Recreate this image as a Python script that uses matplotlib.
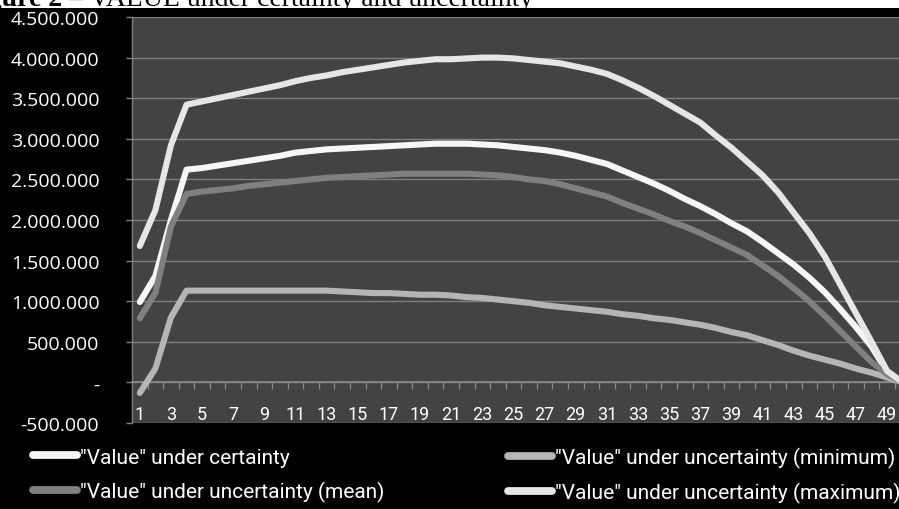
import matplotlib
matplotlib.use("Agg")
import matplotlib.pyplot as plt
from matplotlib.patches import Rectangle
from matplotlib.ticker import FuncFormatter, FixedLocator

# ---------------- data ----------------
periods = list(range(1, 51))

value_certainty = [
    0.99e6, 1.31e6, 2.00e6, 2.62e6, 2.64e6, 2.67e6, 2.70e6, 2.73e6, 2.76e6, 2.79e6,
    2.83e6, 2.85e6, 2.87e6, 2.88e6, 2.89e6, 2.90e6, 2.91e6, 2.92e6, 2.93e6, 2.94e6,
    2.94e6, 2.94e6, 2.93e6, 2.92e6, 2.90e6, 2.88e6, 2.86e6, 2.83e6, 2.79e6, 2.74e6,
    2.69e6, 2.61e6, 2.53e6, 2.45e6, 2.36e6, 2.26e6, 2.17e6, 2.07e6, 1.96e6, 1.86e6,
    1.73e6, 1.59e6, 1.45e6, 1.29e6, 1.11e6, 0.90e6, 0.68e6, 0.44e6, 0.13e6, 0.0,
]

value_min = [
    -0.13e6, 0.17e6, 0.80e6, 1.13e6, 1.13e6, 1.13e6, 1.13e6, 1.13e6, 1.13e6, 1.13e6,
    1.13e6, 1.13e6, 1.13e6, 1.12e6, 1.11e6, 1.10e6, 1.10e6, 1.09e6, 1.08e6, 1.08e6,
    1.07e6, 1.05e6, 1.04e6, 1.02e6, 1.00e6, 0.98e6, 0.95e6, 0.93e6, 0.91e6, 0.89e6,
    0.87e6, 0.84e6, 0.82e6, 0.79e6, 0.77e6, 0.74e6, 0.71e6, 0.67e6, 0.62e6, 0.58e6,
    0.52e6, 0.46e6, 0.39e6, 0.33e6, 0.28e6, 0.23e6, 0.17e6, 0.12e6, 0.06e6, 0.0,
]

value_mean = [
    0.79e6, 1.10e6, 1.92e6, 2.32e6, 2.35e6, 2.37e6, 2.39e6, 2.42e6, 2.44e6, 2.46e6,
    2.48e6, 2.50e6, 2.52e6, 2.53e6, 2.54e6, 2.55e6, 2.56e6, 2.57e6, 2.57e6, 2.57e6,
    2.57e6, 2.57e6, 2.56e6, 2.55e6, 2.53e6, 2.50e6, 2.48e6, 2.44e6, 2.39e6, 2.34e6,
    2.29e6, 2.21e6, 2.14e6, 2.07e6, 1.99e6, 1.92e6, 1.84e6, 1.75e6, 1.66e6, 1.57e6,
    1.44e6, 1.31e6, 1.16e6, 1.00e6, 0.82e6, 0.63e6, 0.44e6, 0.25e6, 0.10e6, 0.0,
]

value_max = [
    1.68e6, 2.12e6, 2.92e6, 3.42e6, 3.46e6, 3.50e6, 3.54e6, 3.58e6, 3.62e6, 3.66e6,
    3.71e6, 3.75e6, 3.78e6, 3.82e6, 3.85e6, 3.88e6, 3.91e6, 3.94e6, 3.96e6, 3.98e6,
    3.98e6, 3.99e6, 4.00e6, 4.00e6, 3.99e6, 3.97e6, 3.95e6, 3.93e6, 3.89e6, 3.85e6,
    3.80e6, 3.72e6, 3.63e6, 3.53e6, 3.42e6, 3.31e6, 3.20e6, 3.04e6, 2.89e6, 2.72e6,
    2.55e6, 2.34e6, 2.09e6, 1.84e6, 1.55e6, 1.20e6, 0.85e6, 0.50e6, 0.14e6, 0.0,
]

series_labels = [
    '"Value" under certainty',
    '"Value" under uncertainty (minimum)',
    '"Value" under uncertainty (mean)',
    '"Value" under uncertainty (maximum)',
]
x_tick_labels = [str(i) for i in range(1, 50, 2)]
y_ticks = list(range(-500000, 4500001, 500000))
title_bold = "Figure 2"
title_rest = " \u2013 VALUE under certainty and uncertainty"

# ---------------- styling ----------------
W, H = 899, 510
narrow = ['Roboto', 'DejaVu Sans']
colors = ['#f6f6f6', '#b5b5b5', '#808080', '#e6e6e6']

fig = plt.figure(figsize=(W / 100, H / 100), dpi=100, facecolor='black')

# white strip at top with the partially hidden caption
fig.add_artist(Rectangle((0, 1 - 9 / H), 1, 9 / H, transform=fig.transFigure,
                         facecolor='white', edgecolor='none', zorder=0))
t1 = fig.text(-37 / W, 1 - 6.5 / H, title_bold, fontsize=20, fontweight='bold',
              family='Liberation Serif', color='black', va='baseline', ha='left',
              zorder=1)
fig.canvas.draw()
bb = t1.get_window_extent(renderer=fig.canvas.get_renderer())
fig.text(bb.x1 / W, 1 - 6.5 / H, title_rest, fontsize=20, family='Liberation Serif',
         color='black', va='baseline', ha='left', zorder=1)

left_px, top_px, bottom_px = 132, 18, 424
ax = fig.add_axes([left_px / W, 1 - bottom_px / H, (W - left_px) / W,
                   (bottom_px - top_px) / H])
ax.set_facecolor('#434343')

lines = []
for vals, c, lab in zip([value_certainty, value_min, value_mean, value_max],
                        colors, series_labels):
    ln, = ax.plot(periods, vals, color=c, lw=4.4, solid_capstyle='round',
                  solid_joinstyle='round', label=lab, zorder=3)
    lines.append(ln)

cat_w = 15.57
ax.set_xlim(0.5, 0.5 + (W - left_px) / cat_w)
ax.set_ylim(-500000, 4500000)

# grid
ax.set_yticks(y_ticks)
ax.yaxis.grid(True, color='#808080', lw=1.0, zorder=1)
ax.set_axisbelow(True)
ax.yaxis.set_major_formatter(FuncFormatter(
    lambda v, p: '-' if v == 0 else f"{int(round(v)):,}".replace(',', '.')))
ax.tick_params(axis='y', colors='#808080', length=4.5, width=1.0, pad=19,
               labelcolor='white', labelsize=14)
for lab in ax.get_yticklabels():
    lab.set_family('Open Sans')

# spines
for s in ['top', 'right']:
    ax.spines[s].set_visible(False)
ax.spines['left'].set_color('#808080')
ax.spines['left'].set_linewidth(1.0)
ax.spines['bottom'].set_position(('data', 0))
ax.spines['bottom'].set_color('#8a8a8a')
ax.spines['bottom'].set_linewidth(1.2)
ax.spines['bottom'].set_zorder(2)

# x ticks: labels at odd categories, tick marks between categories
ax.xaxis.set_major_locator(FixedLocator(list(range(1, 50, 2))))
ax.set_xticklabels(x_tick_labels)
ax.xaxis.set_minor_locator(FixedLocator([i + 0.5 for i in range(1, 50)]))
ax.tick_params(axis='x', which='major', length=0, pad=16, labelcolor='white',
               labelsize=13)
ax.tick_params(axis='x', which='minor', length=5, width=1.0, color='#8a8a8a',
               direction='out')
for lab in ax.get_xticklabels():
    lab.set_family(narrow)

# legend in two columns (each column its own legend to match positions)
fs_leg = 15
common = dict(frameon=False, labelcolor='white', borderpad=0,
              borderaxespad=0, handlelength=2.1, handletextpad=0.15,
              labelspacing=0.7, loc='center left',
              prop={'family': narrow, 'size': fs_leg})
y_mid = 1 - 476 / H
leg1 = fig.legend([lines[0], lines[2]], [series_labels[0], series_labels[2]],
                  bbox_to_anchor=(33 / W, y_mid), **common)
leg2 = fig.legend([lines[1], lines[3]], [series_labels[1], series_labels[3]],
                  bbox_to_anchor=(508 / W, y_mid), **common)
for lg in (leg1, leg2):
    for hl in lg.get_lines():
        hl.set_linewidth(5.6)
        hl.set_solid_capstyle('round')

fig.savefig('out.png', dpi=100, facecolor='black')
